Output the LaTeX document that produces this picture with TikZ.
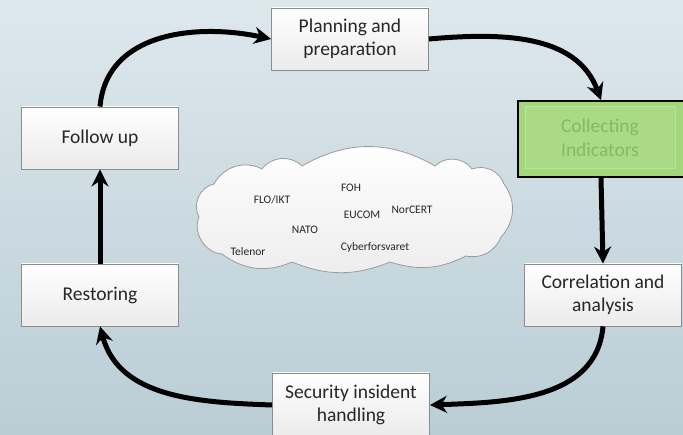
\documentclass[tikz,border=0pt]{standalone}
\usepackage{fontspec}
\setmainfont{Carlito}
\usetikzlibrary{arrows.meta}
\definecolor{bgtop}{HTML}{DDE8ED}
\definecolor{bgbot}{HTML}{BACDD5}
\definecolor{boxline}{HTML}{8C8C8C}
\definecolor{greenout}{HTML}{A4D67C}
\definecolor{greenin}{HTML}{ABDA86}
\definecolor{greenline}{HTML}{BDE3A0}
\definecolor{greentext}{HTML}{84B862}
\definecolor{cloudline}{HTML}{9A9A9A}
\tikzset{
  stepbox/.style={draw=boxline, line width=0.8pt, top color=white, bottom color=black!8,
    minimum width=157pt, minimum height=62pt, align=center, inner sep=0pt,
    font=\fontsize{19.5}{23.5}\selectfont, text=black!85},
  flow/.style={line width=5pt, -{Stealth[length=17pt,width=17pt]}},
  lbl/.style={font=\fontsize{11.5}{13}\selectfont, text=black!85, inner sep=0pt},
  cloudstyle/.style={draw=cloudline, line width=0.8pt, top color=white, bottom color=black!7}
}
\begin{document}
\begin{tikzpicture}[x=1pt,y=1pt]
\useasboundingbox (0,0) rectangle (683,434);
\begin{scope}
\clip (0,0) rectangle (683,434);
\shade[top color=bgtop, bottom color=bgbot] (0,0) rectangle (683,434);
% nodes
\node[stepbox] (plan) at (350,395) {Planning and\\preparation};
\node[draw=black, line width=1.6pt, fill=greenout, minimum width=166pt, minimum height=76pt, inner sep=0pt] (coll) at (601,295) {};
\node[draw=greenline, line width=1pt, fill=greenin, minimum width=150pt, minimum height=62pt, align=center, inner sep=0pt,
  font=\fontsize{19.5}{23.5}\selectfont, text=greentext] (collin) at (600,296) {Collecting\\Indicators};
\node[stepbox] (corr) at (603,139) {Correlation and\\analysis};
\node[stepbox, minimum height=64pt] (sec) at (351,29) {Security insident\\handling};
\node[stepbox] (rest) at (100,139) {Restoring};
\node[stepbox] (foll) at (100,296) {Follow up};
% cloud
\coordinate (cA) at (222,180);
\coordinate (cB) at (199,217);
\coordinate (cC) at (214,250);
\coordinate (cD) at (262,265);
\coordinate (cE) at (302,268);
\coordinate (cF) at (435,268);
\coordinate (cG) at (472,265);
\coordinate (cH) at (504,250);
\coordinate (cI) at (501,197);
\coordinate (cJ) at (466,178);
\coordinate (cK) at (390,172);
\coordinate (cL) at (292,172);
\path[cloudstyle] (cA) to[bend left=55] (cB) to[bend left=55] (cC) to[bend left=45] (cD)
  to[bend left=50] (cE) to[bend left=30] (cF) to[bend left=50] (cG) to[bend left=45] (cH)
  to[bend left=40] (cI) to[bend left=40] (cJ) to[bend left=22] (cK) to[bend left=22] (cL)
  to[bend left=30] (cA) -- cycle;
\node[lbl] (t1) at (272,234) {FLO/IKT};
\node[lbl] (t2) at (351,246) {FOH};
\node[lbl] (t3) at (362,219) {EUCOM};
\node[lbl] (t4) at (412,224) {NorCERT};
\node[lbl] (t5) at (305,204) {NATO};
\node[lbl] (t6) at (248,182) {Telenor};
\node[lbl] (t7) at (375,187) {Cyberforsvaret};
% connectors
\draw[flow] (foll.north) to[out=85, in=168, looseness=1.05] (plan.west);
\draw[flow] (plan.east) to[out=5, in=110, looseness=1.0] (coll.north);
\draw[flow] (coll.south) -- (corr.north);
\draw[flow] (corr.south) to[out=-95, in=2, looseness=1.0] (sec.east);
\draw[flow] (sec.west) to[out=178, in=-75, looseness=1.0] (rest.south);
\draw[flow] (rest.north) -- (foll.south);
\end{scope}
\end{tikzpicture}
\end{document}
